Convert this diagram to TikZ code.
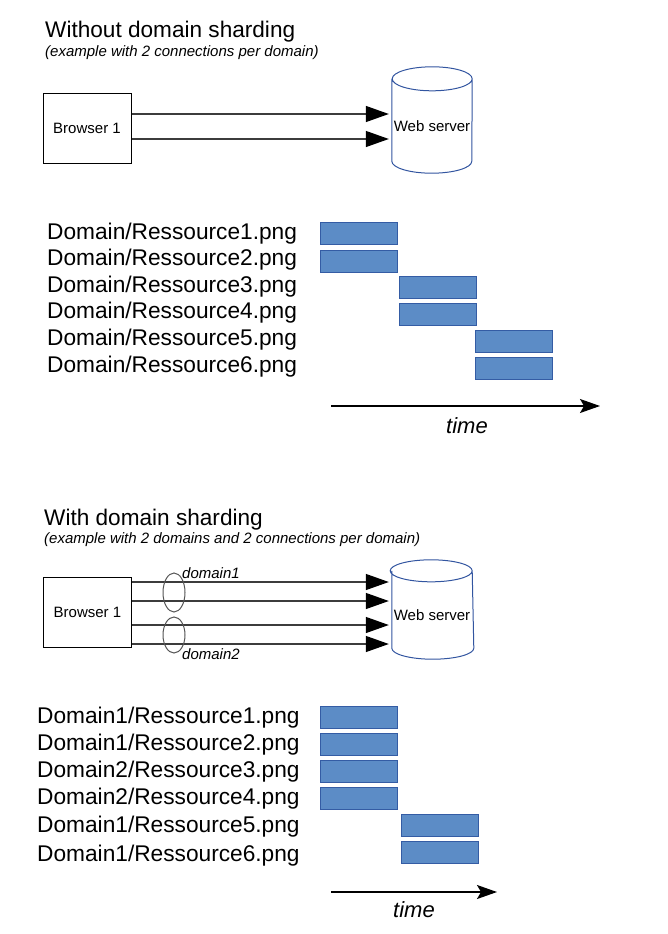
\documentclass[tikz,border=0pt]{standalone}
\usepackage{fontspec}
\setmainfont{Liberation Sans}
\usetikzlibrary{arrows.meta}
\usetikzlibrary{shapes.geometric}
\usepackage{xcolor}

\definecolor{barfill}{RGB}{92,140,198}
\definecolor{bardraw}{RGB}{52,92,164}
\definecolor{dbblue}{RGB}{50,85,160}
\definecolor{ringgray}{RGB}{85,85,85}
\definecolor{linegray}{RGB}{60,60,60}

\tikzset{
  title/.style={anchor=base west, inner sep=0, font=\fontsize{22.6}{26}\selectfont},
  subtitle/.style={anchor=base west, inner sep=0, font=\fontsize{15}{18}\selectfont\itshape},
  file/.style={anchor=base west, inner sep=0, font=\fontsize{22.7}{26}\selectfont},
  browser/.style={draw=black, line width=1pt, minimum width=88pt, minimum height=70pt, font=\fontsize{15}{18}\selectfont},
  server/.style={minimum width=80pt, inner sep=0},
  serverlbl/.style={inner sep=0, font=\fontsize{15}{18}\selectfont},
  cyl/.style={draw=dbblue, line width=1pt},
  conn/.style={draw=linegray, line width=1.3pt, shorten >=3pt, -{Triangle[length=23pt,width=16pt,fill=black,color=black]}},
  bar/.style={draw=bardraw, fill=barfill, line width=1pt, minimum width=77pt, minimum height=22pt, inner sep=0},
  ring/.style={ellipse, draw=ringgray, line width=1pt, minimum width=22pt, inner sep=0},
  ringlbl/.style={anchor=base west, inner sep=0, font=\fontsize{15}{18}\selectfont\itshape},
  timeaxis/.style={line width=1.2pt, -{Stealth[length=20pt,width=14pt,inset=4pt]}},
  timelbl/.style={anchor=base west, inner sep=0, font=\fontsize{22}{26}\selectfont\itshape},
}

\begin{document}
\begin{tikzpicture}[x=1pt,y=-1pt]
        \useasboundingbox (0,0) rectangle (667,934);

        % without sharding
        \node[title] (t1) at (45,38) {Without domain sharding};
        \node[subtitle] (st1) at (45,57) {(example with 2 connections per domain)};

        \node[browser] (b1) at (87,128) {Browser 1};
        \node[server, minimum height=82pt] (srv1) at (432,120) {};
        \draw[cyl] (srv1.north west) -- (srv1.south west)
            arc[start angle=180, end angle=360, x radius=40pt, y radius=12pt]
            -- (srv1.north east)
            arc[start angle=0, end angle=360, x radius=40pt, y radius=12pt];
        \node[serverlbl] (srv1lbl) at ([yshift=-6pt]srv1.center) {Web server};

        \draw[conn] (b1.east |- 0,114) -- (srv1.west |- 0,114);
        \draw[conn] (b1.east |- 0,139) -- (srv1.west |- 0,139);

        \foreach \n/\y in {1/239,2/265,3/292,4/318,5/345,6/372}
            \node[file] (f\n) at (47,\y) {Domain/Ressource\n.png};

        \foreach \x/\y [count=\i] in {358.5/233,358.5/261,437.5/287.5,437.5/314.5,513.5/341,513.5/368}
            \node[bar] (bar\i) at (\x,\y) {};

        \coordinate (ta1) at (331,406);
        \coordinate (tb1) at (600,406);
        \draw[timeaxis] (ta1) -- (tb1);
        \node[timelbl] (time1) at (446,433) {time};

        % with sharding
        \node[title] (t2) at (44,525) {With domain sharding};
        \node[subtitle] (st2) at (44,543) {(example with 2 domains and 2 connections per domain)};

        \node[browser] (b2) at (87.5,612) {Browser 1};
        \node[server, minimum height=77pt] (srv2) at (432,609.5) {};
        \draw[cyl] (srv2.north west) -- (srv2.south west)
            arc[start angle=180, end angle=360, x radius=41pt, y radius=11pt]
            -- (srv2.north east)
            arc[start angle=0, end angle=360, x radius=41pt, y radius=11pt];
        \node[serverlbl] (srv2lbl) at ([yshift=-5.5pt]srv2.center) {Web server};

        \foreach \y in {582,601,625,644}
            \draw[conn] (b2.east |- 0,\y) -- (srv2.west |- 0,\y);

        \node[ring, minimum height=39pt] (d1) at (174,592.5) {};
        \node[ring, minimum height=36pt] (d2) at (174,635) {};
        \node[ringlbl] (d1lbl) at (182,578) {domain1};
        \node[ringlbl] (d2lbl) at (182,659) {domain2};

        \foreach \d/\n/\y in {1/1/723,1/2/750,2/3/777,2/4/804,1/5/832,1/6/861}
            \node[file] (sf\n) at (37,\y) {Domain\d/Ressource\n.png};

        \foreach \x/\y [count=\i] in {358.5/717.5,358.5/744.5,358.5/771.5,358.5/798.5,439.5/825.5,439.5/852.5}
            \node[bar] (sbar\i) at (\x,\y) {};

        \coordinate (ta2) at (331,892);
        \coordinate (tb2) at (497,892);
        \draw[timeaxis] (ta2) -- (tb2);
        \node[timelbl] (time2) at (393,917) {time};
    \end{tikzpicture}
\end{document}
